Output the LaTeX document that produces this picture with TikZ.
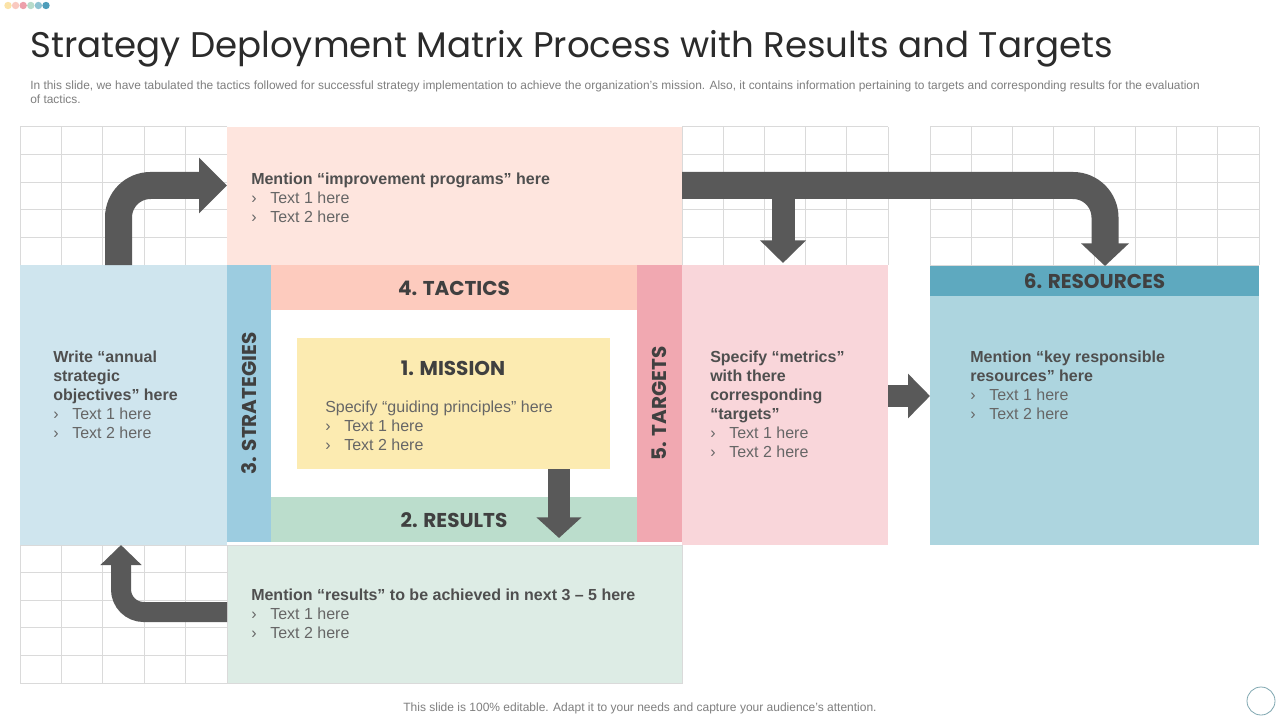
\documentclass[tikz,border=0pt]{standalone}
\usepackage{fontspec}
\setmainfont{Liberation Sans}
\newfontfamily\titlefont{Poppins}
\usetikzlibrary{arrows.meta,fit,calc}
\definecolor{leftblue}{HTML}{CFE5EE}
\definecolor{stratc}{HTML}{9CCCE0}
\definecolor{tactc}{HTML}{FDCBBE}
\definecolor{topc}{HTML}{FEE5DE}
\definecolor{missc}{HTML}{FCEBB1}
\definecolor{resbarc}{HTML}{BBDDCC}
\definecolor{botc}{HTML}{DDECE5}
\definecolor{targc}{HTML}{F1A8B1}
\definecolor{pinkc}{HTML}{F9D6DA}
\definecolor{rhead}{HTML}{5EA9BF}
\definecolor{rbody}{HTML}{ADD5DF}
\definecolor{arrowc}{HTML}{595959}
\definecolor{gridc}{HTML}{DADADA}
\definecolor{boldc}{HTML}{4F4F4F}
\definecolor{regc}{HTML}{666666}
\definecolor{headc}{HTML}{404040}
\definecolor{titlec}{HTML}{2B2B2B}
\definecolor{subc}{HTML}{7F7F7F}
\definecolor{dotA}{HTML}{FBE3A8}
\definecolor{dotB}{HTML}{F9C9C0}
\definecolor{dotC}{HTML}{EDA0AB}
\definecolor{dotD}{HTML}{B7DCCB}
\definecolor{dotE}{HTML}{8EC3D2}
\definecolor{dotF}{HTML}{4E9DBA}
\definecolor{ringc}{HTML}{7FA7B0}
\newcommand\bul{\makebox[14.25pt][l]{›}}
\newcommand\hd[1]{\textcolor{boldc}{\bfseries #1}}
\begin{document}
\begin{tikzpicture}[x=0.75pt,y=-0.75pt,
  box/.style={inner sep=0pt, outer sep=0pt, draw=none},
  gridl/.style={draw=gridc, line width=0.75pt},
  txt/.style={anchor=north west, inner sep=0pt, align=left, text=regc,
    font=\fontsize{12pt}{14.25pt}\selectfont},
  head/.style={inner sep=0pt, text=headc, font=\titlefont\bfseries\fontsize{15pt}{18pt}\selectfont},
  bigarrow/.style={draw=arrowc, line cap=butt}]
\useasboundingbox (0,0) rectangle (1280,720);
\fill[white] (0,0) rectangle (1280,720);
% decorative dots
\foreach \c [count=\k from 0] in {dotA,dotB,dotC,dotD,dotE,dotF}
  \fill[\c] ({8+\k*7.6},5.5) circle (3.7);
% title and subtitle
\node[anchor=base west, inner sep=0pt, text=titlec, font=\titlefont\fontsize{26.7pt}{31pt}\selectfont] (title) at (30,58) {Strategy Deployment Matrix Process with Results and Targets};
\node[anchor=base west, inner sep=0pt, text=subc, font=\fontsize{8.95pt}{11pt}\selectfont] (sub1) at (30,89.5) {In this slide, we have tabulated the tactics followed for successful strategy implementation to achieve the organization's mission. Also, it contains information pertaining to targets and corresponding results for the evaluation};
\node[anchor=base west, inner sep=0pt, text=subc, font=\fontsize{8.95pt}{11pt}\selectfont] (sub2) at (30,103.5) {of tactics.};
% grids
\foreach \i in {0,...,5} {
  \draw[gridl] ({20+\i*41.4},127) -- ({20+\i*41.4},265);
  \draw[gridl] (20,{127+\i*27.6}) -- (227,{127+\i*27.6});
  \draw[gridl] ({20+\i*41.4},545) -- ({20+\i*41.4},683);
  \draw[gridl] (20,{545+\i*27.6}) -- (227,{545+\i*27.6});
  \draw[gridl] ({682+\i*41.2},127) -- ({682+\i*41.2},265);
  \draw[gridl] (682,{127+\i*27.6}) -- (888,{127+\i*27.6});
  \draw[gridl] (930,{127+\i*27.6}) -- (1259,{127+\i*27.6});
}
\foreach \i in {0,...,8}
  \draw[gridl] ({930+\i*41.125},127) -- ({930+\i*41.125},265);
% boxes
\node[box, fill=topc, fit={(227,127)(682,265)}] (topbox) {};
\node[box, fill=leftblue, fit={(20,265)(227,545)}] (lbox) {};
\node[box, fill=botc, draw=gridc, line width=0.75pt, fit={(227,545)(682,683)}] (botbox) {};
\node[box, fill=pinkc, fit={(682,265)(888,545)}] (pinkbox) {};
\node[box, fill=stratc, fit={(227,265)(271,542)}] (strat) {};
\node[box, fill=tactc, fit={(271,265)(637,310)}] (tact) {};
\node[box, fill=resbarc, fit={(271,497)(637,542)}] (resbar) {};
\node[box, fill=targc, fit={(637,265)(682,542)}] (targ) {};
\node[box, fill=missc, fit={(297,338)(610,469)}] (mission) {};
\node[box, fill=rhead, fit={(930,266)(1259,296)}] (reshead) {};
\node[box, fill=rbody, fit={(930,296)(1259,545)}] (resbody) {};
% headers
\node[head] (tactT) at ($(tact.center)+(0,1)$) {4. TACTICS};
\node[head] (resT) at ($(resbar.center)+(0,1)$) {2. RESULTS};
\node[head, rotate=90] (stratT) at (strat.center) {3. STRATEGIES};
\node[head, rotate=90] (targT) at (targ.center) {5. TARGETS};
\node[head] (missT) at (453,368) {1. MISSION};
\node[head] (rheadT) at (reshead.center) {6. RESOURCES};
% body texts
\node[txt] (ttop) at (251,173) {\hd{Mention “improvement programs” here}\\\bul Text 1 here\\\bul Text 2 here};
\node[txt] (tleft) at (53,351) {\hd{Write “annual}\\\hd{strategic}\\\hd{objectives” here}\\\bul Text 1 here\\\bul Text 2 here};
\node[txt] (tmiss) at (325,401) {Specify “guiding principles” here\\\bul Text 1 here\\\bul Text 2 here};
\node[txt] (tbot) at (251,589) {\hd{Mention “results” to be achieved in next 3 – 5 here}\\\bul Text 1 here\\\bul Text 2 here};
\node[txt] (tpink) at (710,351) {\hd{Specify “metrics”}\\\hd{with there}\\\hd{corresponding}\\\hd{“targets”}\\\bul Text 1 here\\\bul Text 2 here};
\node[txt] (tres) at (970,351) {\hd{Mention “key responsible}\\\hd{resources” here}\\\bul Text 1 here\\\bul Text 2 here};
% arrows
\coordinate (c1) at (118.5,185.5);
\draw[bigarrow, line width=20.25pt, rounded corners=24pt, -{Triangle[width=40.5pt,length=21pt]}]
  (c1 |- lbox.north) -- (c1) -- (c1 -| topbox.west);
\coordinate (c2) at (121,612);
\draw[bigarrow, line width=15pt, rounded corners=17pt, -{Triangle[width=30pt,length=15pt]}]
  (c2 -| botbox.west) -- (c2) -- (c2 |- lbox.south);
\coordinate (c3) at (559,538);
\draw[bigarrow, line width=16.5pt, -{Triangle[width=33pt,length=15.5pt]}]
  (c3 |- mission.south) -- (c3);
\coordinate (c4) at (1105,185.5);
\draw[bigarrow, line width=20.25pt, rounded corners=24pt, -{Triangle[width=35pt,length=17pt]}]
  (c4 -| topbox.east) -- (c4) -- (c4 |- reshead.north);
\coordinate (c5) at (783,185.5);
\coordinate (c5e) at (783,263);
\draw[bigarrow, line width=17.25pt, -{Triangle[width=33.5pt,length=17pt]}]
  (c5) -- (c5e);
\coordinate (c6) at (888,396);
\draw[bigarrow, line width=16.5pt, -{Triangle[width=32.5pt,length=16.5pt]}]
  (c6 -| pinkbox.east) -- (c6 -| resbody.west);
% footer and ring
\node[anchor=base, inner sep=0pt, text=subc, font=\fontsize{9pt}{11pt}\selectfont] (foot) at (640,711) {This slide is 100\% editable. Adapt it to your needs and capture your audience's attention.};
\node[circle, draw=ringc, line width=0.6pt, minimum size=21pt, inner sep=0pt] (ring) at (1261,701) {};
\end{tikzpicture}
\end{document}
